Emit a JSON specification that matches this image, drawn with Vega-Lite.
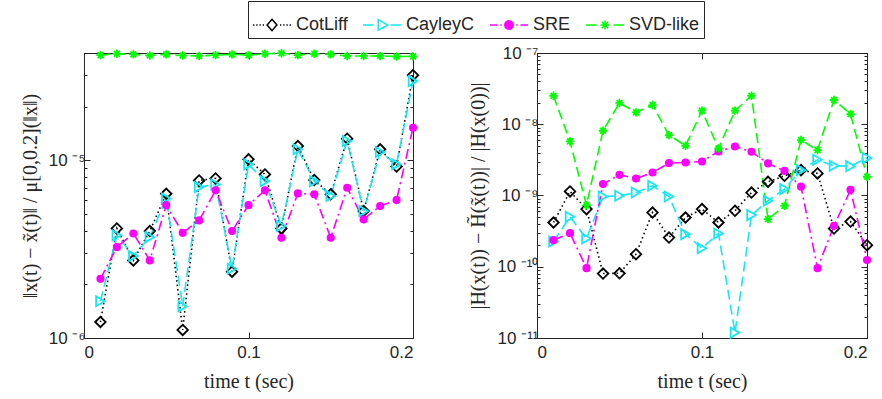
{
  "$schema": "https://vega.github.io/schema/vega-lite/v6.json",
  "autosize": {"type": "pad"},
  "padding": {"left": 19, "top": 0, "right": 14, "bottom": 0},
  "background": "white",
  "config": {
    "view": {"stroke": "#262626", "strokeWidth": 1},
    "axis": {"grid": false, "domainColor": "#262626", "tickColor": "#262626", "labelColor": "#262626", "titleColor": "#262626", "labelFont": "Liberation Sans", "labelFontSize": 17, "titleFont": "Liberation Serif", "titleFontSize": 20, "titleFontWeight": "normal", "domainWidth": 1, "tickWidth": 1},
    "legend": {"labelFont": "Liberation Sans", "labelFontSize": 18, "labelColor": "#262626"}
  },
  "datasets": {
    "left": [
      {"s": "CotLiff", "t": 0.01, "v": 1.23e-6}, {"s": "CotLiff", "t": 0.02, "v": 4.13e-6}, {"s": "CotLiff", "t": 0.03, "v": 2.73e-6}, {"s": "CotLiff", "t": 0.04, "v": 3.99e-6}, {"s": "CotLiff", "t": 0.05, "v": 6.47e-6},
      {"s": "CotLiff", "t": 0.06, "v": 1.11e-6}, {"s": "CotLiff", "t": 0.07, "v": 7.69e-6}, {"s": "CotLiff", "t": 0.08, "v": 7.89e-6}, {"s": "CotLiff", "t": 0.09, "v": 2.36e-6}, {"s": "CotLiff", "t": 0.10, "v": 1.01e-5},
      {"s": "CotLiff", "t": 0.11, "v": 8.31e-6}, {"s": "CotLiff", "t": 0.12, "v": 4.13e-6}, {"s": "CotLiff", "t": 0.13, "v": 1.2e-5}, {"s": "CotLiff", "t": 0.14, "v": 7.72e-6}, {"s": "CotLiff", "t": 0.15, "v": 6.42e-6},
      {"s": "CotLiff", "t": 0.16, "v": 1.32e-5}, {"s": "CotLiff", "t": 0.17, "v": 5.17e-6}, {"s": "CotLiff", "t": 0.18, "v": 1.15e-5}, {"s": "CotLiff", "t": 0.19, "v": 9.2e-6}, {"s": "CotLiff", "t": 0.20, "v": 3.0e-5},
      {"s": "CayleyC", "t": 0.01, "v": 1.61e-6}, {"s": "CayleyC", "t": 0.02, "v": 3.78e-6}, {"s": "CayleyC", "t": 0.03, "v": 2.89e-6}, {"s": "CayleyC", "t": 0.04, "v": 3.69e-6}, {"s": "CayleyC", "t": 0.05, "v": 6.09e-6},
      {"s": "CayleyC", "t": 0.06, "v": 1.51e-6}, {"s": "CayleyC", "t": 0.07, "v": 7.05e-6}, {"s": "CayleyC", "t": 0.08, "v": 7.3e-6}, {"s": "CayleyC", "t": 0.09, "v": 2.45e-6}, {"s": "CayleyC", "t": 0.10, "v": 9.46e-6},
      {"s": "CayleyC", "t": 0.11, "v": 7.62e-6}, {"s": "CayleyC", "t": 0.12, "v": 4.26e-6}, {"s": "CayleyC", "t": 0.13, "v": 1.15e-5}, {"s": "CayleyC", "t": 0.14, "v": 7.62e-6}, {"s": "CayleyC", "t": 0.15, "v": 6.28e-6},
      {"s": "CayleyC", "t": 0.16, "v": 1.28e-5}, {"s": "CayleyC", "t": 0.17, "v": 5.17e-6}, {"s": "CayleyC", "t": 0.18, "v": 1.11e-5}, {"s": "CayleyC", "t": 0.19, "v": 9.46e-6}, {"s": "CayleyC", "t": 0.20, "v": 2.78e-5},
      {"s": "SRE", "t": 0.01, "v": 2.15e-6}, {"s": "SRE", "t": 0.02, "v": 3.24e-6}, {"s": "SRE", "t": 0.03, "v": 3.87e-6}, {"s": "SRE", "t": 0.04, "v": 2.73e-6}, {"s": "SRE", "t": 0.05, "v": 5.58e-6},
      {"s": "SRE", "t": 0.06, "v": 3.9e-6}, {"s": "SRE", "t": 0.07, "v": 4.58e-6}, {"s": "SRE", "t": 0.08, "v": 6.76e-6}, {"s": "SRE", "t": 0.09, "v": 3.99e-6}, {"s": "SRE", "t": 0.10, "v": 5.58e-6},
      {"s": "SRE", "t": 0.11, "v": 6.76e-6}, {"s": "SRE", "t": 0.12, "v": 3.66e-6}, {"s": "SRE", "t": 0.13, "v": 6.5e-6}, {"s": "SRE", "t": 0.14, "v": 6.42e-6}, {"s": "SRE", "t": 0.15, "v": 3.66e-6},
      {"s": "SRE", "t": 0.16, "v": 6.99e-6}, {"s": "SRE", "t": 0.17, "v": 4.64e-6}, {"s": "SRE", "t": 0.18, "v": 5.52e-6}, {"s": "SRE", "t": 0.19, "v": 5.96e-6}, {"s": "SRE", "t": 0.20, "v": 1.52e-5},
      {"s": "SVD-like", "t": 0.01, "v": 3.89e-5}, {"s": "SVD-like", "t": 0.02, "v": 3.96e-5}, {"s": "SVD-like", "t": 0.03, "v": 3.93e-5}, {"s": "SVD-like", "t": 0.04, "v": 3.87e-5}, {"s": "SVD-like", "t": 0.05, "v": 3.93e-5},
      {"s": "SVD-like", "t": 0.06, "v": 3.87e-5}, {"s": "SVD-like", "t": 0.07, "v": 3.85e-5}, {"s": "SVD-like", "t": 0.08, "v": 3.89e-5}, {"s": "SVD-like", "t": 0.09, "v": 3.93e-5}, {"s": "SVD-like", "t": 0.10, "v": 3.89e-5},
      {"s": "SVD-like", "t": 0.11, "v": 3.96e-5}, {"s": "SVD-like", "t": 0.12, "v": 3.99e-5}, {"s": "SVD-like", "t": 0.13, "v": 3.89e-5}, {"s": "SVD-like", "t": 0.14, "v": 3.96e-5}, {"s": "SVD-like", "t": 0.15, "v": 3.93e-5},
      {"s": "SVD-like", "t": 0.16, "v": 3.85e-5}, {"s": "SVD-like", "t": 0.17, "v": 3.85e-5}, {"s": "SVD-like", "t": 0.18, "v": 3.85e-5}, {"s": "SVD-like", "t": 0.19, "v": 3.82e-5}, {"s": "SVD-like", "t": 0.20, "v": 3.83e-5}
    ],
    "right": [
      {"s": "CotLiff", "t": 0.01, "v": 4.18e-10}, {"s": "CotLiff", "t": 0.02, "v": 1.14e-9}, {"s": "CotLiff", "t": 0.03, "v": 6.44e-10}, {"s": "CotLiff", "t": 0.04, "v": 8.03e-11}, {"s": "CotLiff", "t": 0.05, "v": 8.1e-11},
      {"s": "CotLiff", "t": 0.06, "v": 1.5e-10}, {"s": "CotLiff", "t": 0.07, "v": 5.77e-10}, {"s": "CotLiff", "t": 0.08, "v": 2.57e-10}, {"s": "CotLiff", "t": 0.09, "v": 4.91e-10}, {"s": "CotLiff", "t": 0.10, "v": 6.44e-10},
      {"s": "CotLiff", "t": 0.11, "v": 4.18e-10}, {"s": "CotLiff", "t": 0.12, "v": 6.1e-10}, {"s": "CotLiff", "t": 0.13, "v": 1.1e-9}, {"s": "CotLiff", "t": 0.14, "v": 1.56e-9}, {"s": "CotLiff", "t": 0.15, "v": 1.89e-9},
      {"s": "CotLiff", "t": 0.16, "v": 2.27e-9}, {"s": "CotLiff", "t": 0.17, "v": 2.04e-9}, {"s": "CotLiff", "t": 0.18, "v": 3.44e-10}, {"s": "CotLiff", "t": 0.19, "v": 4.31e-10}, {"s": "CotLiff", "t": 0.20, "v": 2.01e-10},
      {"s": "CayleyC", "t": 0.01, "v": 2.26e-10}, {"s": "CayleyC", "t": 0.02, "v": 5.02e-10}, {"s": "CayleyC", "t": 0.03, "v": 2.49e-10}, {"s": "CayleyC", "t": 0.04, "v": 9.68e-10}, {"s": "CayleyC", "t": 0.05, "v": 9.9e-10},
      {"s": "CayleyC", "t": 0.06, "v": 1.1e-9}, {"s": "CayleyC", "t": 0.07, "v": 1.37e-9}, {"s": "CayleyC", "t": 0.08, "v": 9.68e-10}, {"s": "CayleyC", "t": 0.09, "v": 2.87e-10}, {"s": "CayleyC", "t": 0.10, "v": 1.82e-10},
      {"s": "CayleyC", "t": 0.11, "v": 2.93e-10}, {"s": "CayleyC", "t": 0.12, "v": 1.19e-11}, {"s": "CayleyC", "t": 0.13, "v": 5.31e-10}, {"s": "CayleyC", "t": 0.14, "v": 8.43e-10}, {"s": "CayleyC", "t": 0.15, "v": 1.23e-9},
      {"s": "CayleyC", "t": 0.16, "v": 2.27e-9}, {"s": "CayleyC", "t": 0.17, "v": 3.17e-9}, {"s": "CayleyC", "t": 0.18, "v": 2.61e-9}, {"s": "CayleyC", "t": 0.19, "v": 2.58e-9}, {"s": "CayleyC", "t": 0.20, "v": 3.35e-9},
      {"s": "SRE", "t": 0.01, "v": 2.36e-10}, {"s": "SRE", "t": 0.02, "v": 2.96e-10}, {"s": "SRE", "t": 0.03, "v": 9.55e-11}, {"s": "SRE", "t": 0.04, "v": 1.45e-9}, {"s": "SRE", "t": 0.05, "v": 1.95e-9},
      {"s": "SRE", "t": 0.06, "v": 1.73e-9}, {"s": "SRE", "t": 0.07, "v": 2.1e-9}, {"s": "SRE", "t": 0.08, "v": 2.85e-9}, {"s": "SRE", "t": 0.09, "v": 2.91e-9}, {"s": "SRE", "t": 0.10, "v": 3.0e-9},
      {"s": "SRE", "t": 0.11, "v": 4.15e-9}, {"s": "SRE", "t": 0.12, "v": 4.88e-9}, {"s": "SRE", "t": 0.13, "v": 4.11e-9}, {"s": "SRE", "t": 0.14, "v": 2.82e-9}, {"s": "SRE", "t": 0.15, "v": 2.22e-9},
      {"s": "SRE", "t": 0.16, "v": 1.33e-9}, {"s": "SRE", "t": 0.17, "v": 9.55e-11}, {"s": "SRE", "t": 0.18, "v": 3.75e-10}, {"s": "SRE", "t": 0.19, "v": 1.2e-9}, {"s": "SRE", "t": 0.20, "v": 1.24e-10},
      {"s": "SVD-like", "t": 0.01, "v": 2.51e-8}, {"s": "SVD-like", "t": 0.02, "v": 5.74e-9}, {"s": "SVD-like", "t": 0.03, "v": 7.33e-10}, {"s": "SVD-like", "t": 0.04, "v": 8.1e-9}, {"s": "SVD-like", "t": 0.05, "v": 1.99e-8},
      {"s": "SVD-like", "t": 0.06, "v": 1.47e-8}, {"s": "SVD-like", "t": 0.07, "v": 1.86e-8}, {"s": "SVD-like", "t": 0.08, "v": 7.05e-9}, {"s": "SVD-like", "t": 0.09, "v": 4.99e-9}, {"s": "SVD-like", "t": 0.10, "v": 1.55e-8},
      {"s": "SVD-like", "t": 0.11, "v": 4.57e-9}, {"s": "SVD-like", "t": 0.12, "v": 1.55e-8}, {"s": "SVD-like", "t": 0.13, "v": 2.51e-8}, {"s": "SVD-like", "t": 0.14, "v": 4.66e-10}, {"s": "SVD-like", "t": 0.15, "v": 7.16e-10},
      {"s": "SVD-like", "t": 0.16, "v": 6.0e-9}, {"s": "SVD-like", "t": 0.17, "v": 4.34e-9}, {"s": "SVD-like", "t": 0.18, "v": 2.19e-8}, {"s": "SVD-like", "t": 0.19, "v": 1.39e-8}, {"s": "SVD-like", "t": 0.20, "v": 1.83e-9}
    ]
  },
  "resolve": {"scale": {"y": "independent"}},
  "spacing": 45,
  "hconcat": [
    {
      "width": 329, "height": 285,
      "data": {"name": "left"},
      "resolve": {"axis": {"x": "independent", "y": "independent"}},
      "layer": [
        {
          "mark": {"type": "line", "strokeWidth": 1.6, "clip": false},
          "encoding": {
            "x": {"field": "t", "type": "quantitative", "scale": {"domain": [0, 0.2], "nice": false, "zero": false},
                  "axis": {"values": [0, 0.1, 0.2], "format": "~g", "tickSize": -6, "labelPadding": 12, "title": "time t (sec)", "titlePadding": 11}},
            "y": {"field": "v", "type": "quantitative", "scale": {"type": "log", "domain": [1e-6, 4e-5], "nice": false},
                  "axis": {"values": [1e-6, 2e-6, 3e-6, 4e-6, 5e-6, 6e-6, 7e-6, 8e-6, 9e-6, 1e-5, 2e-5, 3e-5, 4e-5],
                           "labelExpr": "abs(log(datum.value)/LN10 - round(log(datum.value)/LN10)) < 0.01 ? '10 ' + (round(log(datum.value)/LN10) <= -10 ? '⁻¹' + ['⁰','¹','²','³','⁴','⁵','⁶','⁷','⁸','⁹'][-round(log(datum.value)/LN10) - 10] : '⁻' + ['⁰','¹','²','³','⁴','⁵','⁶','⁷','⁸','⁹'][-round(log(datum.value)/LN10)]) : ''",
                           "tickSize": {"condition": {"test": "abs(log(datum.value)/LN10 - round(log(datum.value)/LN10)) < 0.01", "value": -6}, "value": -3},
                           "labelPadding": 5, "title": "‖x(t) − x̃(t)‖ / μ[0,0.2](‖x‖)", "titlePadding": 8}},
            "color": {"field": "s", "type": "nominal", "scale": {"domain": ["CotLiff", "CayleyC", "SRE", "SVD-like"], "range": ["#000000", "#18e6f0", "#ff00ff", "#00ff00"]},
                      "legend": {"orient": "none", "legendX": 164, "legendY": -52, "direction": "horizontal", "columns": 4, "title": null, "symbolSize": 1444, "strokeColor": "#262626", "fillColor": "white", "padding": 4, "columnPadding": 12, "labelOffset": 4, "labelFontSize": 18, "labelFont": "Liberation Sans", "labelColor": "#262626",
                                 "encode": {"symbols": {"update": {
                                   "shape": {"signal": "datum.value == 'CotLiff' ? 'M-1,0L-0.93,0M-0.83,0L-0.76,0M-0.66,0L-0.59,0M-0.49,0L-0.42,0M0,-0.3L0.26,0L0,0.3L-0.26,0ZM0.42,0L0.49,0M0.59,0L0.66,0M0.76,0L0.83,0M0.93,0L1,0' : datum.value == 'CayleyC' ? 'M-1,0L-0.45,0M-0.2,-0.28L0.3,0L-0.2,0.28ZM0.45,0L1,0' : datum.value == 'SRE' ? 'M-1,0L-0.6,0M-0.46,0L-0.38,0M0.38,0L0.46,0M0.6,0L1,0M0.22,0A0.22,0.22 0 1,1 -0.22,0A0.22,0.22 0 1,1 0.22,0Z' : 'M-1,0L-0.45,0M0.45,0L1,0M-0.24,0L0.24,0M0,-0.24L0,0.24M-0.17,-0.17L0.17,0.17M-0.17,0.17L0.17,-0.17'"},
                                   "size": {"value": 1444}, "strokeDash": {"value": [1, 0]}, "strokeWidth": {"value": 1.5}, "opacity": {"value": 1},
                                   "fill": {"signal": "datum.value == 'SRE' ? '#ff00ff' : 'transparent'"}
                                 }}}}},
            "strokeDash": {"field": "s", "type": "nominal", "scale": {"domain": ["CayleyC", "CotLiff", "SRE", "SVD-like"], "range": [[10, 5], [1.5, 3], [10, 4, 2, 4], [10, 5]]}, "legend": null}
          }
        },
        {
          "mark": {"type": "point", "filled": true, "strokeWidth": 1.8, "opacity": 1, "clip": false},
          "encoding": {
            "x": {"field": "t", "type": "quantitative", "axis": {"orient": "top", "values": [0, 0.1, 0.2], "labels": false, "title": null, "tickSize": -6}},
            "y": {"field": "v", "type": "quantitative",
                  "axis": {"orient": "right", "values": [1e-6, 2e-6, 3e-6, 4e-6, 5e-6, 6e-6, 7e-6, 8e-6, 9e-6, 1e-5, 2e-5, 3e-5, 4e-5], "labels": false, "title": null,
                           "tickSize": {"condition": {"test": "abs(log(datum.value)/LN10 - round(log(datum.value)/LN10)) < 0.01", "value": -6}, "value": -3}}},
            "shape": {"field": "s", "type": "nominal", "scale": {"domain": ["CayleyC", "CotLiff", "SRE", "SVD-like"], "range": ["triangle-right", "diamond", "circle", "M-1,0L1,0M0,-1L0,1M-0.7,-0.7L0.7,0.7M-0.7,0.7L0.7,-0.7"]}, "legend": null},
            "stroke": {"field": "s", "type": "nominal", "scale": {"domain": ["CayleyC", "CotLiff", "SRE", "SVD-like"], "range": ["#18e6f0", "#000000", "#ff00ff", "#00ff00"]}, "legend": null},
            "fill": {"field": "s", "type": "nominal", "scale": {"domain": ["CayleyC", "CotLiff", "SRE", "SVD-like"], "range": ["transparent", "transparent", "#ff00ff", "transparent"]}, "legend": null},
            "size": {"field": "s", "type": "nominal", "scale": {"type": "ordinal", "domain": ["CayleyC", "CotLiff", "SRE", "SVD-like"], "range": [100, 110, 40, 70]}, "legend": null}
          }
        }
      ]
    },
    {
      "width": 330, "height": 285,
      "data": {"name": "right"},
      "resolve": {"axis": {"x": "independent", "y": "independent"}},
      "layer": [
        {
          "mark": {"type": "line", "strokeWidth": 1.6, "clip": false},
          "encoding": {
            "x": {"field": "t", "type": "quantitative", "scale": {"domain": [0, 0.2], "nice": false, "zero": false},
                  "axis": {"values": [0, 0.1, 0.2], "format": "~g", "tickSize": -6, "labelPadding": 12, "title": "time t (sec)", "titlePadding": 11}},
            "y": {"field": "v", "type": "quantitative", "scale": {"type": "log", "domain": [1e-11, 1e-7], "nice": false},
                  "axis": {"values": [1e-11, 2e-11, 3e-11, 4e-11, 5e-11, 6e-11, 7e-11, 8e-11, 9e-11, 1e-10, 2e-10, 3e-10, 4e-10, 5e-10, 6e-10, 7e-10, 8e-10, 9e-10, 1e-9, 2e-9, 3e-9, 4e-9, 5e-9, 6e-9, 7e-9, 8e-9, 9e-9, 1e-8, 2e-8, 3e-8, 4e-8, 5e-8, 6e-8, 7e-8, 8e-8, 9e-8, 1e-7],
                           "labelExpr": "abs(log(datum.value)/LN10 - round(log(datum.value)/LN10)) < 0.01 ? '10 ' + (round(log(datum.value)/LN10) <= -10 ? '⁻¹' + ['⁰','¹','²','³','⁴','⁵','⁶','⁷','⁸','⁹'][-round(log(datum.value)/LN10) - 10] : '⁻' + ['⁰','¹','²','³','⁴','⁵','⁶','⁷','⁸','⁹'][-round(log(datum.value)/LN10)]) : ''",
                           "tickSize": {"condition": {"test": "abs(log(datum.value)/LN10 - round(log(datum.value)/LN10)) < 0.01", "value": -6}, "value": -3},
                           "labelPadding": 5, "title": "|H(x(t)) − H̃(x̃(t))| / |H(x(0))|", "titlePadding": 8}},
            "color": {"field": "s", "type": "nominal", "scale": {"domain": ["CotLiff", "CayleyC", "SRE", "SVD-like"], "range": ["#000000", "#18e6f0", "#ff00ff", "#00ff00"]}, "legend": null},
            "strokeDash": {"field": "s", "type": "nominal", "scale": {"domain": ["CayleyC", "CotLiff", "SRE", "SVD-like"], "range": [[10, 5], [1.5, 3], [10, 4, 2, 4], [10, 5]]}, "legend": null}
          }
        },
        {
          "mark": {"type": "point", "filled": true, "strokeWidth": 1.8, "opacity": 1, "clip": false},
          "encoding": {
            "x": {"field": "t", "type": "quantitative", "axis": {"orient": "top", "values": [0, 0.1, 0.2], "labels": false, "title": null, "tickSize": -6}},
            "y": {"field": "v", "type": "quantitative",
                  "axis": {"orient": "right", "values": [1e-11, 2e-11, 3e-11, 4e-11, 5e-11, 6e-11, 7e-11, 8e-11, 9e-11, 1e-10, 2e-10, 3e-10, 4e-10, 5e-10, 6e-10, 7e-10, 8e-10, 9e-10, 1e-9, 2e-9, 3e-9, 4e-9, 5e-9, 6e-9, 7e-9, 8e-9, 9e-9, 1e-8, 2e-8, 3e-8, 4e-8, 5e-8, 6e-8, 7e-8, 8e-8, 9e-8, 1e-7], "labels": false, "title": null,
                           "tickSize": {"condition": {"test": "abs(log(datum.value)/LN10 - round(log(datum.value)/LN10)) < 0.01", "value": -6}, "value": -3}}},
            "shape": {"field": "s", "type": "nominal", "scale": {"domain": ["CayleyC", "CotLiff", "SRE", "SVD-like"], "range": ["triangle-right", "diamond", "circle", "M-1,0L1,0M0,-1L0,1M-0.7,-0.7L0.7,0.7M-0.7,0.7L0.7,-0.7"]}, "legend": null},
            "stroke": {"field": "s", "type": "nominal", "scale": {"domain": ["CayleyC", "CotLiff", "SRE", "SVD-like"], "range": ["#18e6f0", "#000000", "#ff00ff", "#00ff00"]}, "legend": null},
            "fill": {"field": "s", "type": "nominal", "scale": {"domain": ["CayleyC", "CotLiff", "SRE", "SVD-like"], "range": ["transparent", "transparent", "#ff00ff", "transparent"]}, "legend": null},
            "size": {"field": "s", "type": "nominal", "scale": {"type": "ordinal", "domain": ["CayleyC", "CotLiff", "SRE", "SVD-like"], "range": [100, 110, 40, 70]}, "legend": null}
          }
        }
      ]
    }
  ]
}
